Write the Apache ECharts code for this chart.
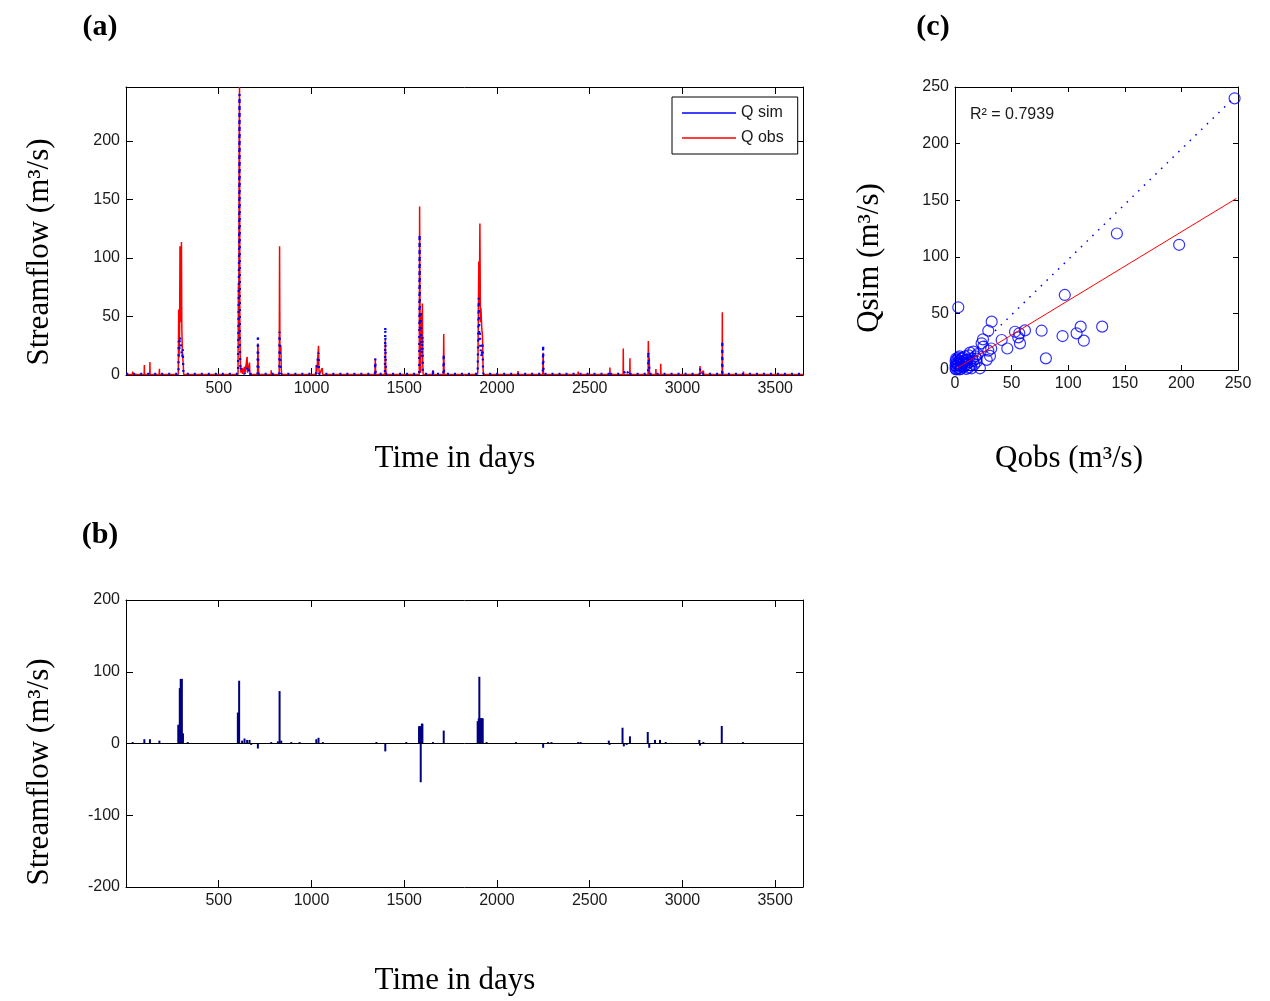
<!DOCTYPE html>
<html>
<head>
<meta charset="utf-8">
<script src="https://cdn.jsdelivr.net/npm/echarts@6/dist/echarts.min.js"></script>
<style>
  html, body { margin: 0; padding: 0; background: #fff; }
  #chart { width: 1270px; height: 1001px; }
</style>
</head>
<body>
<div id="chart"></div>
<script>
// ---------- Panel (a): daily streamflow ----------
const obsDays = [1, 35, 36, 37, 98, 99, 100, 128, 129, 130, 179, 180, 181,
  282, 284, 286, 289, 291, 293, 296, 299, 301, 304, 306, 309, 311,
  604, 606, 608, 610, 612, 614, 616, 618, 620, 626, 628, 639, 641, 653, 655, 666, 668,
  709, 711, 713, 715, 782, 783, 784,
  826, 828, 830, 835, 837, 839,
  1024, 1026, 1028, 1038, 1040, 1042, 1058, 1060,
  1342, 1344, 1346, 1396, 1398, 1400, 1402, 1510, 1511, 1512,
  1581, 1583, 1585, 1587, 1589, 1592, 1595, 1598, 1600, 1602,
  1654, 1655, 1656, 1711, 1713, 1715,
  1896, 1898, 1902, 1905, 1908, 1911, 1914, 1918, 1922, 1925, 1927,
  2113, 2114, 2115, 2247, 2249, 2251, 2437, 2438, 2439, 2608, 2609, 2610,
  2680, 2681, 2682, 2716, 2717, 2718,
  2815, 2816, 2818, 2821, 2823, 2856, 2857, 2858, 2882, 2883, 2884,
  3094, 3095, 3097, 3113, 3115, 3214, 3215, 3216, 3328, 3329, 3330, 3650];
const obsValues = [0.5, 0.5, 3, 0.5, 0.5, 8.6, 0.5, 0.5, 11, 0.5, 0.5, 5.4, 0.5,
  0.5, 56, 15, 40, 110, 45, 60, 113.5, 40, 20, 15, 8, 0.5,
  0.5, 76.5, 30, 198, 246, 40, 15, 5, 2, 6, 1, 7, 1, 15.5, 2, 10.6, 0.5,
  0.5, 27, 12, 0.5, 0.5, 4, 0.5,
  0.5, 110, 20, 25.5, 5, 0.5,
  0.5, 8.6, 1, 25, 6, 0.5, 6, 0.5,
  0.5, 14, 0.5, 0.5, 30, 8, 0.5, 0.5, 2, 0.5,
  0.5, 144, 60, 20, 2, 52, 30, 61, 10, 0.5,
  0.5, 4, 0.5, 0.5, 35, 0.5,
  0.5, 20, 97, 60, 129.5, 45, 57, 40, 33, 6, 0.5,
  0.5, 3.4, 0.5, 0.5, 19, 0.5, 0.5, 3, 0.5, 0.5, 6.3, 0.5,
  0.5, 22.6, 0.5, 0.5, 14.3, 0.5,
  0.5, 29, 10, 15, 0.5, 0.5, 5, 0.5, 0.5, 9.7, 0.5,
  0.5, 7.7, 1, 3.5, 0.5, 0.5, 53.6, 0.5, 0.5, 3, 0.5, 0.5];

const simDays = [1, 283, 284, 287, 291, 295, 299, 303, 306, 309, 311,
  604, 606, 610, 612, 614, 616, 618, 620, 626, 639, 653, 655, 666, 668,
  709, 711, 713, 715, 826, 828, 830, 835, 837,
  1024, 1026, 1038, 1040, 1042, 1342, 1344, 1346, 1396, 1398, 1400, 1402,
  1581, 1583, 1585, 1589, 1592, 1595, 1598, 1600, 1602,
  1654, 1655, 1656, 1711, 1713, 1715,
  1896, 1902, 1905, 1908, 1911, 1914, 1918, 1922, 1925, 1927,
  2247, 2249, 2251, 2608, 2609, 2610, 2680, 2681, 2694, 2696, 2717, 2718,
  2815, 2816, 2821, 2823, 3094, 3095, 3097, 3214, 3215, 3216, 3650];
const simValues = [1, 1, 29, 20, 33, 25, 24, 15, 22, 4, 1,
  1, 34, 110, 240, 30, 10, 4, 6, 2, 1, 6, 2, 5, 1,
  1, 34, 15, 1, 1, 37, 15, 15, 1,
  1, 3, 19, 4, 1, 1, 14, 1, 1, 41, 10, 1,
  1, 120, 40, 55, 30, 15, 33, 5, 1,
  1, 5, 1, 1, 18, 1,
  1, 66, 30, 36, 20, 22, 15, 28, 3, 1,
  1, 25.5, 1, 1, 3, 1, 1, 1, 3.5, 1, 4, 1,
  1, 20, 20, 1, 1, 5.7, 1, 1, 29, 1, 1];

// ---------- Panel (b): residual streamflow ----------
const resDays = [36, 99, 129, 180, 282, 285, 288, 290, 292, 295, 298, 301, 304, 307, 333,
  603, 606, 610, 626, 639, 653, 666, 675, 711, 783, 819, 828, 837, 891, 936,
  1026, 1038, 1061, 1350, 1398, 1511,
  1580, 1583, 1586, 1589, 1592, 1595, 1598, 1655, 1713,
  1896, 1899, 1902, 1905, 1908, 1911, 1914, 1917, 1920, 1923,
  1944, 2102, 2249, 2276, 2294, 2438, 2451, 2603, 2607, 2677, 2684, 2699, 2717,
  2813, 2821, 2852, 2879, 2910, 3091, 3095, 3113, 3212, 3326];
const resValues = [2, 6, 6, 4, 26, 26, 26, 77, 77, 90, 90, 90, 14, 14, 2,
  43, 43, 87.5, 4, 7, 5, 5, -2, -7, 2, 3, 73, 4, 2, 2,
  6, 8, 2, 2, -11, 2,
  24, 24, 24, -54, 22, 27.6, 27.6, 2, 18,
  31, 31, 35, 93, 35, 35, 35, 35, 35, 35,
  2, 2, -6, 2, 2, 2, 2, 4, -2, 22, -4, -2, 10,
  16, -6, 5, 5, 2, 5, -3, 2, 24.4, 2];

// ---------- Panel (c): Qobs vs Qsim ----------
const scatterObs = [247, 143, 198, 97, 2.9, 32.4, 29.4, 24.7, 23.5, 25, 16.2, 13.2, 29.4, 30.9,
  41.2, 46.2, 53, 56.8, 55.9, 57.4, 61.8, 76.5, 80.3, 95, 107.4, 111, 113.8, 130,
  10.3, 19.1, 22, 14.7, 32, 28,
  0.5, 1, 2, 3, 4, 5, 6, 7, 8, 9, 10, 11, 12, 13, 2, 1, 3, 5, 7, 15, 17, 18, 20, 12,
  4, 0.5, 1, 6, 8, 10, 2, 3, 0.5, 1, 4, 6, 9, 14, 16, 19];
const scatterSim = [240, 120.6, 110.6, 66.3, 55.4, 42.7, 34.7, 27.1, 23.6, 20.6, 16.2, 15.3, 17.1, 12.4,
  26.5, 19, 33.8, 32.4, 28.8, 23.5, 35, 34.7, 10.3, 30, 32.4, 38.3, 25.9, 38.3,
  8.8, 7.3, 1.5, 1.5, 19, 9,
  1, 3, 5, 2, 8, 4, 10, 6, 3, 12, 5, 9, 2, 7, 9, 6, 11, 1, 11, 10, 5, 12, 14, 13,
  0.5, 4, 0.5, 7, 8, 1, 1, 6, 8, 10, 12, 3, 6, 4, 8, 10];
const oneToOneX = [0, 247];
const oneToOneY = [0, 241];
const fitX = [1.5, 248.5];
const fitY = [1.5, 151.5];
const r2Text = 'R² = 0.7939';

// ---------- helpers ----------
const pairs = (xs, ys) => xs.map((x, i) => [x, ys[i]]);
const SANS = '"Liberation Sans", Arial, sans-serif';
const SERIF = '"Liberation Serif", "Times New Roman", serif';
const TXT = '#1a1a1a';

function xAxes(grid, min, max, interval, tickLen, fmt) {
  const base = {
    type: 'value', gridIndex: grid, min: min, max: max, interval: interval,
    splitLine: { show: false },
    axisLine: { show: true, onZero: false, lineStyle: { color: '#000', width: 1 } },
    axisTick: { show: true, inside: true, length: tickLen, lineStyle: { color: '#000' } }
  };
  return [
    Object.assign({}, base, {
      position: 'bottom',
      axisLabel: { show: true, margin: 6, fontFamily: SANS, fontSize: 16, color: TXT,
        showMaxLabel: true, formatter: fmt }
    }),
    Object.assign({}, base, { position: 'top', axisLabel: { show: false } })
  ];
}
function yAxes(grid, min, max, interval, tickLen, fmt) {
  const base = {
    type: 'value', gridIndex: grid, min: min, max: max, interval: interval,
    splitLine: { show: false },
    axisLine: { show: true, onZero: false, lineStyle: { color: '#000', width: 1 } },
    axisTick: { show: true, inside: true, length: tickLen, lineStyle: { color: '#000' } }
  };
  return [
    Object.assign({}, base, {
      position: 'left',
      axisLabel: { show: true, margin: 6, fontFamily: SANS, fontSize: 16, color: TXT, formatter: fmt }
    }),
    Object.assign({}, base, { position: 'right', axisLabel: { show: false } })
  ];
}
const dayFmt = v => (v > 0 && v % 500 === 0 && v < 3650) ? String(v) : '';
const flowFmt = v => (v % 50 === 0) ? String(v) : '';
const resFmt = v => (v % 100 === 0) ? String(v) : '';

function txt(x, y, text, font, rot) {
  return {
    type: 'text', x: x, y: y, rotation: rot || 0, silent: true,
    style: { text: text, font: font, fill: '#000', textAlign: 'center', textVerticalAlign: 'middle' }
  };
}

const chart = echarts.init(document.getElementById('chart'), null, { renderer: 'canvas' });
chart.setOption({
  animation: false,
  backgroundColor: '#fff',
  grid: [
    { left: 126, top: 87, width: 677, height: 288 },
    { left: 126, top: 600, width: 677, height: 287 },
    { left: 955, top: 87, width: 283, height: 283 }
  ],
  xAxis: [].concat(
    xAxes(0, 0, 3650, 500, 7, dayFmt),
    xAxes(1, 0, 3650, 500, 7, dayFmt),
    xAxes(2, 0, 250, 50, 5, v => String(v))
  ),
  yAxis: [].concat(
    yAxes(0, 0, 246, 50, 7, flowFmt),
    yAxes(1, -200, 200, 100, 7, resFmt),
    yAxes(2, 0, 250, 50, 5, v => String(v))
  ),
  legend: {
    data: ['Q sim', 'Q obs'],
    orient: 'vertical',
    left: 672, top: 97,
    backgroundColor: '#fff',
    borderColor: '#000', borderWidth: 1,
    padding: [8, 14, 8, 10],
    itemGap: 9,
    itemWidth: 54, itemHeight: 1.5,
    icon: 'rect',
    selectedMode: false,
    textStyle: { fontFamily: SANS, fontSize: 16, color: TXT, lineHeight: 16 }
  },
  series: [
    {
      name: 'Q obs', type: 'line', xAxisIndex: 0, yAxisIndex: 0,
      data: pairs(obsDays, obsValues), symbol: 'none', showSymbol: false,
      itemStyle: { color: '#ff0000' },
      lineStyle: { color: '#ff0000', width: 1.5 }, z: 3
    },
    {
      name: 'Q sim', type: 'line', xAxisIndex: 0, yAxisIndex: 0,
      data: pairs(simDays, simValues), symbol: 'none', showSymbol: false,
      itemStyle: { color: '#0000ff' },
      lineStyle: { color: '#0000ff', width: 2.3, type: [2, 5] }, z: 4
    },
    {
      name: 'residual', type: 'bar', xAxisIndex: 2, yAxisIndex: 2,
      data: pairs(resDays, resValues), barWidth: 2,
      itemStyle: { color: '#000080' },
      markLine: {
        silent: true, symbol: 'none', label: { show: false },
        lineStyle: { color: '#000', width: 1, type: 'solid' },
        data: [{ yAxis: 0 }]
      }
    },
    {
      name: 'scatter', type: 'scatter', xAxisIndex: 4, yAxisIndex: 4,
      data: pairs(scatterObs, scatterSim), symbol: 'circle', symbolSize: 11, clip: false,
      itemStyle: { color: 'rgba(0,0,0,0)', borderColor: '#0000ff', borderWidth: 1.2 }
    },
    {
      name: 'one-to-one', type: 'line', xAxisIndex: 4, yAxisIndex: 4,
      data: pairs(oneToOneX, oneToOneY), symbol: 'none',
      lineStyle: { color: '#0000ff', width: 1.5, type: [1.5, 6.5] }
    },
    {
      name: 'fit', type: 'line', xAxisIndex: 4, yAxisIndex: 4,
      data: pairs(fitX, fitY), symbol: 'none',
      lineStyle: { color: '#ff0000', width: 1 }
    }
  ],
  graphic: [
    txt(100, 27, '(a)', 'bold 30px ' + SERIF),
    txt(100, 535, '(b)', 'bold 30px ' + SERIF),
    txt(933, 27, '(c)', 'bold 30px ' + SERIF),
    txt(40, 252, 'Streamflow (m³/s)', '31px ' + SERIF, Math.PI / 2),
    txt(40, 772, 'Streamflow (m³/s)', '31px ' + SERIF, Math.PI / 2),
    txt(870, 258, 'Qsim (m³/s)', '31px ' + SERIF, Math.PI / 2),
    txt(455, 459, 'Time in days', '31px ' + SERIF),
    txt(455, 981, 'Time in days', '31px ' + SERIF),
    txt(1069, 459, 'Qobs (m³/s)', '31px ' + SERIF),
    {
      type: 'text', x: 970, y: 115, silent: true,
      style: { text: r2Text, font: '16px ' + SANS, fill: TXT, textAlign: 'left', textVerticalAlign: 'middle' }
    }
  ]
});
</script>
</body>
</html>
